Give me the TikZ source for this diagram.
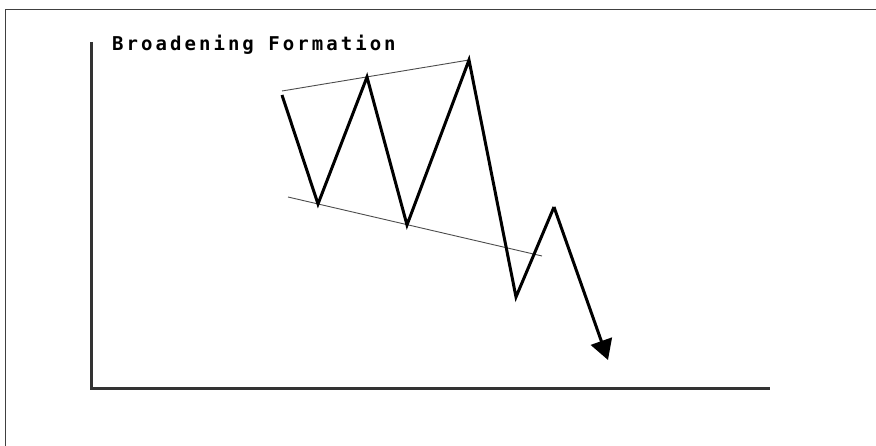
\documentclass[tikz,border=0pt]{standalone}
\usepackage{fontspec}
\newfontfamily\titlefont[LetterSpace=16]{DejaVu Sans Mono Bold}
\usetikzlibrary{arrows.meta,positioning,calc}
\tikzset{
 frameline/.style={draw=black!75,line width=1.5pt},
 axis/.style={draw=black!80,line width=3pt},
 price/.style={draw=black,line width=3pt,line join=miter},
 trend/.style={draw=black!70,line width=0.9pt},
 breakout/.style={-{Triangle[length=20pt,width=22pt]},price},
 title/.style={font=\titlefont\fontsize{19pt}{19pt}\selectfont,anchor=base west,inner sep=0pt}
}
\begin{document}
\begin{tikzpicture}[x=1pt,y=-1pt]
\useasboundingbox (0,0) rectangle (876,446);
% frame
\draw[frameline] (5.5,446) -- (5.5,9.5) -- (876,9.5);
% axes
\coordinate (origin) at (91,389);
\coordinate (ytop) at (91,42);
\coordinate (xend) at (770,389);
\draw[axis] (ytop) -- (origin) -- (xend);
\node[title] (name) at (112,51) {Broadening Formation};
% swing points
\coordinate (p0) at (282,95);
\coordinate (p1) at (318,204);
\coordinate (p2) at (367,77);
\coordinate (p3) at (407,225);
\coordinate (p4) at (469,60);
\coordinate (p5) at (516,297);
\coordinate (p6) at (554,207);
\coordinate (tip) at (608,360);
% trend lines
\coordinate (u0) at (282,91);
\coordinate (l0) at (288,197);
\coordinate (l1) at (542,256);
\draw[trend] (u0) -- (p4);
\draw[trend] (l0) -- (l1);
% price path
\draw[price] (p0) -- (p1) -- (p2) -- (p3) -- (p4) -- (p5) -- (p6);
\draw[breakout] (p6) -- (tip);
\end{tikzpicture}
\end{document}
